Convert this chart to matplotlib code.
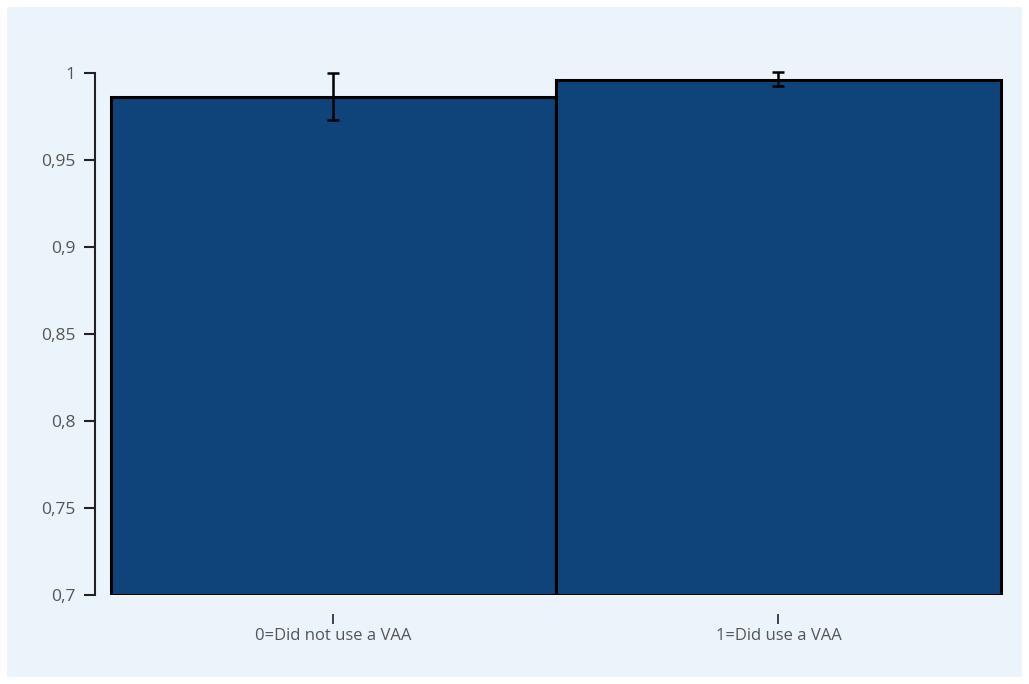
import matplotlib
matplotlib.use("Agg")
import matplotlib.pyplot as plt
from matplotlib.patches import Rectangle

# Data
categories = ["0=Did not use a VAA", "1=Did use a VAA"]
means = [0.986, 0.996]
ci_low = [0.973, 0.9925]
ci_high = [1.000, 1.0005]
y_ticks = [0.7, 0.75, 0.8, 0.85, 0.9, 0.95, 1.0]
y_tick_labels = ["0,7", "0,75", "0,8", "0,85", "0,9", "0,95", "1"]

plt.rcParams["font.family"] = ["Liberation Sans Narrow", "Open Sans", "DejaVu Sans"]

W, H = 1029, 684
fig = plt.figure(figsize=(W / 100, H / 100), dpi=100, facecolor="white")
bg = "#ECF4FB"
fig.patches.append(Rectangle((7 / W, 7 / H), (1022 - 7) / W, (677 - 7) / H,
                             transform=fig.transFigure, facecolor=bg,
                             edgecolor="none", zorder=-10))

ax = fig.add_axes([95 / W, 1 - 595 / H, (1012 - 95) / W, (595 - 73) / H])
ax.set_facecolor("none")

x = list(range(len(categories)))
ax.bar(x, [m - 0.7 for m in means], bottom=0.7, width=1.0, color="#0E4479",
       edgecolor="black", linewidth=2.2, zorder=2)
err_lo = [m - lo for m, lo in zip(means, ci_low)]
err_hi = [hi - m for m, hi in zip(means, ci_high)]
ax.errorbar(x, means, yerr=[err_lo, err_hi], fmt="none", ecolor="black",
            elinewidth=1.8, capsize=4, capthick=1.8, zorder=3, clip_on=False)

ax.set_ylim(0.7, 1.0)
ax.set_xlim(-0.536, 1.525)
ax.set_yticks(y_ticks)
ax.set_yticklabels(y_tick_labels)
ax.set_xticks(x)
ax.set_xticklabels(categories)

for s in ["top", "right"]:
    ax.spines[s].set_visible(False)
ax.spines["bottom"].set_position(("outward", 14))
ax.spines["bottom"].set_visible(False)
ax.spines["left"].set_linewidth(1.5)
ax.spines["left"].set_color("#222222")

ax.tick_params(axis="y", length=8, width=1.5, color="#222222",
               labelsize=12.5, labelcolor="#555555", pad=6)
ax.tick_params(axis="x", length=7, width=1.3, color="#333333",
               labelsize=12, labelcolor="#555555", pad=3)

fig.savefig("out.png", dpi=100, facecolor="white")
